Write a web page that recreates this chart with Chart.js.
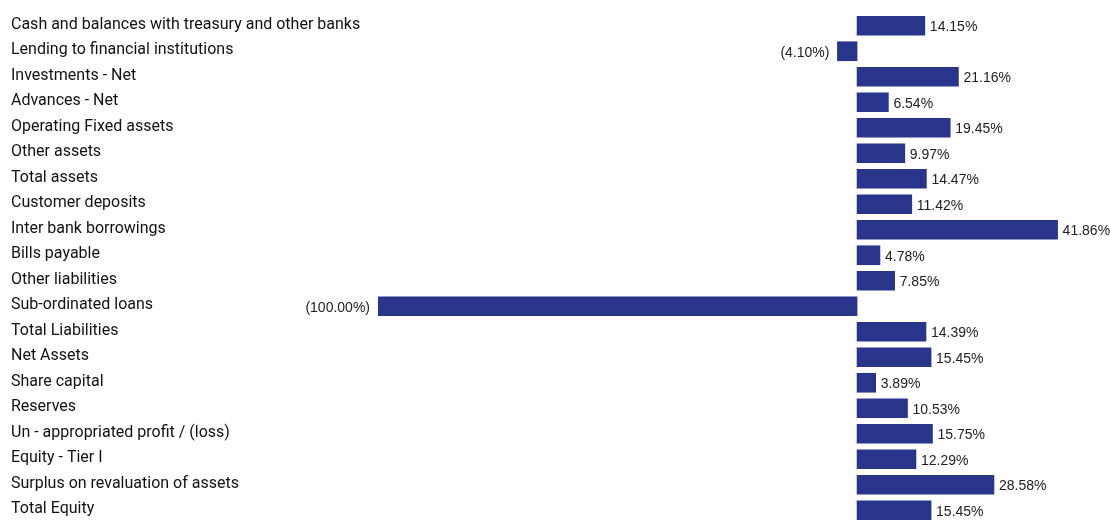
<!DOCTYPE html>
<html>
<head>
<meta charset="utf-8">
<script src="https://cdn.jsdelivr.net/npm/chart.js@4.4.1/dist/chart.umd.min.js"></script>
<style>
  html, body { margin: 0; padding: 0; background: #ffffff; }
  #wrap { width: 1110px; height: 523px; position: relative; }
</style>
</head>
<body>
<div id="wrap"><canvas id="c"></canvas></div>
<script>
const categories = [
  "Cash and balances with treasury and other banks",
  "Lending to financial institutions",
  "Investments - Net",
  "Advances - Net",
  "Operating Fixed assets",
  "Other assets",
  "Total assets",
  "Customer deposits",
  "Inter bank borrowings",
  "Bills payable",
  "Other liabilities",
  "Sub-ordinated loans",
  "Total Liabilities",
  "Net Assets",
  "Share capital",
  "Reserves",
  "Un - appropriated profit / (loss)",
  "Equity - Tier I",
  "Surplus on revaluation of assets",
  "Total Equity"
];
const changePct = [14.15, -4.10, 21.16, 6.54, 19.45, 9.97, 14.47, 11.42, 41.86, 4.78, 7.85, -100.00, 14.39, 15.45, 3.89, 10.53, 15.75, 12.29, 28.58, 15.45];

const LABEL_FONT = "Roboto, 'Liberation Sans', Arial, sans-serif";
const VALUE_FONT = "'Liberation Sans', Arial, sans-serif";

function fmt(v) {
  const s = Math.abs(v).toFixed(2) + '%';
  return v < 0 ? '(' + s + ')' : s;
}

const valueLabels = {
  id: 'valueLabels',
  afterDatasetsDraw(chart) {
    const ctx = chart.ctx;
    const meta = chart.getDatasetMeta(0);
    ctx.save();
    ctx.font = '14px ' + VALUE_FONT;
    ctx.fillStyle = '#222222';
    ctx.textBaseline = 'middle';
    meta.data.forEach((bar, i) => {
      const v = changePct[i];
      const t = fmt(v);
      if (v >= 0) {
        ctx.textAlign = 'left';
        ctx.fillText(t, bar.x + 5, bar.y + 1.5);
      } else {
        ctx.textAlign = 'right';
        ctx.fillText(t, bar.x - 8, bar.y + 1.5);
      }
    });
    ctx.restore();
  }
};

new Chart(document.getElementById('c'), {
  type: 'bar',
  data: {
    labels: categories,
    datasets: [{
      data: changePct,
      backgroundColor: '#28358A',
      borderWidth: 0,
      barThickness: 19
    }]
  },
  options: {
    indexAxis: 'y',
    responsive: true,
    maintainAspectRatio: false,
    animation: false,
    layout: { padding: { left: 11, right: 0, top: 13, bottom: 0 } },
    plugins: {
      legend: { display: false },
      tooltip: { enabled: false }
    },
    scales: {
      x: {
        display: false,
        min: -100,
        max: 52.8
      },
      y: {
        grid: { display: false, drawTicks: false },
        border: { display: false },
        afterFit(scale) {
          scale.width = 367;
          scale.paddingTop = 0;
          scale.paddingBottom = 0;
        },
        ticks: {
          crossAlign: 'far',
          labelOffset: -1,
          padding: 0,
          autoSkip: false,
          color: '#111111',
          font: { family: LABEL_FONT, size: 16 }
        }
      }
    }
  },
  plugins: [valueLabels]
});
</script>
</body>
</html>
